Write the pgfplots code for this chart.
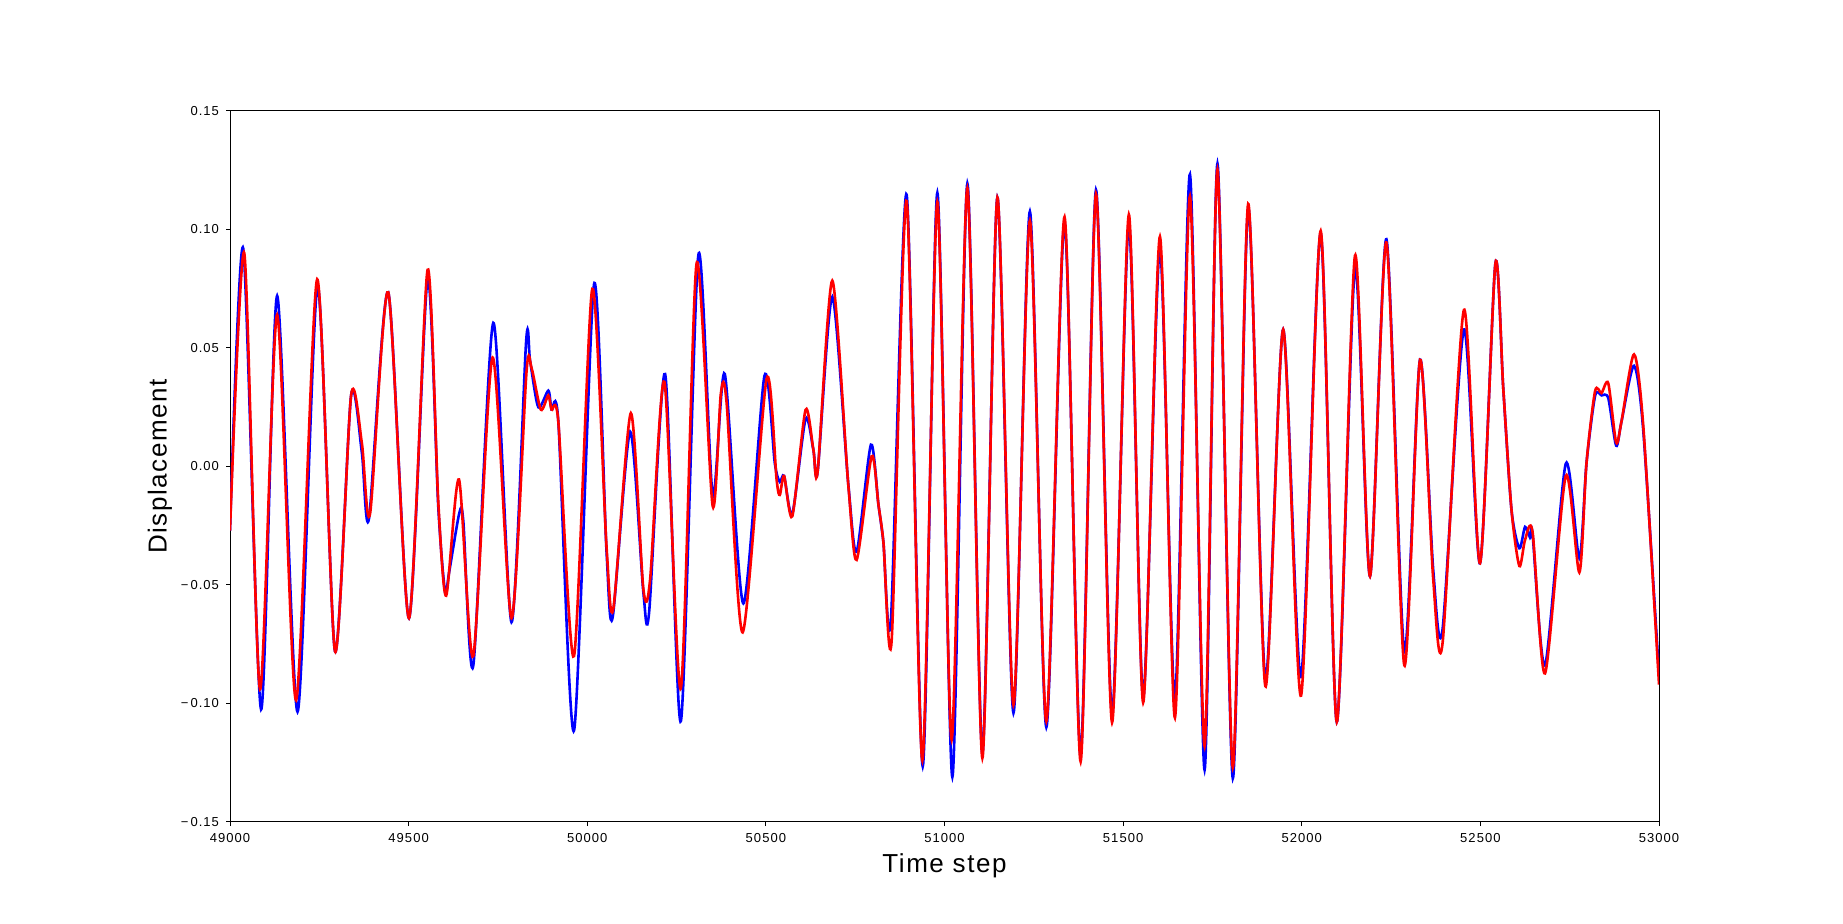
\documentclass[border=0pt]{standalone}
\usepackage{pgfplots}
\pgfplotsset{compat=1.18}
\usepackage{fontspec}
\setmainfont{Liberation Sans}
\newfontfamily\tickfont[LetterSpace=8]{Liberation Sans}
\newfontfamily\labelfont[LetterSpace=6]{Liberation Sans}

\begin{document}
\begin{tikzpicture}
\begin{axis}[
  scale only axis,
  width=714.5pt, height=355.5pt,
  xmin=49000, xmax=53000,
  ymin=-0.15, ymax=0.15,
  scaled x ticks=false,
  scaled y ticks=false,
  xtick={49000,49500,50000,50500,51000,51500,52000,52500,53000},
  xticklabels={49000,49500,50000,50500,51000,51500,52000,52500,53000},
  ytick={-0.15,-0.1,-0.05,0,0.05,0.1,0.15},
  yticklabels={−\,0.15,−\,0.10,−\,0.05,0.00,0.05,0.10,0.15},
  tick pos=left,
  tick align=outside,
  major tick length=2pt,
  tick style={black, line width=0.5pt},
  axis line style={black, line width=0.5pt},
  tick label style={font=\tickfont\fontsize{6.5}{7}\selectfont},
  xlabel={Time step},
  ylabel={Displacement},
  xlabel style={font=\labelfont\fontsize{13}{14}\selectfont, at={(axis description cs:0.5,-0.062)}, anchor=center},
  ylabel style={font=\labelfont\fontsize{13}{14}\selectfont, at={(axis description cs:-0.049,0.5)}, anchor=center},
  every axis plot/.append style={line width=1.3pt, smooth, tension=0.45},
]
\addplot[blue, no marks] coordinates {
(49000,-0.027) (49037,0.092) (49087,-0.1025) (49132,0.072) (49189,-0.1035)
(49245,0.076) (49294,-0.078) (49339,0.030) (49369,0.006) (49389,-0.022)
(49443,0.0735) (49501,-0.064) (49553,0.079) (49583,-0.017) (49602,-0.053)
(49613,-0.045) (49642,-0.0196) (49653,-0.023) (49681,-0.084)
(49737,0.0606) (49788,-0.0657) (49829,0.053) (49840,0.0445) (49863,0.025)
(49891,0.032) (49900,0.024) (49919,0.019) (49963,-0.1114) (50019,0.0769)
(50054,-0.036) (50071,-0.0637) (50120,0.0147) (50157,-0.053) (50173,-0.0618)
(50218,0.039) (50262,-0.1075) (50311,0.0892) (50351,-0.012)
(50385,0.039) (50437,-0.0578) (50496,0.0382) (50525,0.0014)
(50539,-0.0065) (50551,-0.004) (50574,-0.020) (50611,0.020) (50633,0.007)
(50645,-0.002) (50686,0.0716) (50731,-0.008) (50754,-0.036) (50794,0.0092)
(50815,-0.016) (50829,-0.032) (50850,-0.065) (50894,0.1147) (50939,-0.1265)
(50980,0.1155) (51022,-0.131) (51064,0.1194)
(51106,-0.121) (51148,0.1135) (51193,-0.104) (51239,0.1076) (51285,-0.110)
(51336,0.103) (51381,-0.122) (51424,0.1167) (51469,-0.1045) (51516,0.1024)
(51556,-0.0976) (51603,0.092) (51645,-0.0986) (51687,0.1233) (51728,-0.128)
(51764,0.1278) (51807,-0.1316) (51850,0.109) (51898,-0.0898) (51948,0.0578)
(51998,-0.0888) (52053,0.0984) (52098,-0.1078) (52149,0.0837)
(52191,-0.0463) (52237,0.0959) (52287,-0.078) (52331,0.0451) (52368,-0.0437)
(52394,-0.0688)
(52454,0.0578) (52499,-0.0408) (52542,0.0857) (52564,0.033) (52587,-0.0182)
(52609,-0.0345) (52625,-0.0255) (52639,-0.030) (52646,-0.0285) (52681,-0.0839)
(52739,0.0012) (52777,-0.0388) (52797,0.0014) (52821,0.0298)
(52839,0.030) (52858,0.0288) (52880,0.0088) (52895,0.019) (52930,0.0425)
(52956,0.015) (53000,-0.088)
};
\addplot[red, no marks] coordinates {
(49000,-0.027) (49040,0.090) (49084,-0.094) (49132,0.064) (49185,-0.0986)
(49244,0.079) (49294,-0.078) (49339,0.030) (49369,0.010) (49392,-0.020)
(49443,0.0735) (49501,-0.064) (49553,0.083) (49583,-0.015) (49605,-0.0545)
(49641,-0.0055) (49681,-0.080)
(49735,0.046) (49788,-0.064) (49830,0.040) (49844,0.0416) (49870,0.024)
(49891,0.030) (49900,0.024) (49919,0.019) (49963,-0.080) (50014,0.0749)
(50054,-0.034) (50073,-0.060) (50122,0.0225) (50157,-0.0516) (50176,-0.0476)
(50216,0.0357) (50262,-0.0937) (50306,0.0857) (50351,-0.0167)
(50374,0.0308) (50390,0.027) (50435,-0.070) (50502,0.037) (50530,-0.0055)
(50539,-0.012) (50551,-0.004) (50574,-0.021) (50611,0.0239) (50633,0.007)
(50645,-0.002) (50686,0.0784) (50731,-0.0084) (50754,-0.0394) (50796,0.0043)
(50815,-0.016) (50829,-0.032) (50852,-0.0735) (50894,0.112) (50938,-0.124)
(50980,0.1116) (51020,-0.1153) (51064,0.1175)
(51106,-0.123) (51148,0.1135) (51193,-0.1006) (51239,0.1037) (51285,-0.1075)
(51336,0.1053) (51381,-0.1245) (51424,0.115) (51469,-0.108) (51516,0.1063)
(51556,-0.0996) (51603,0.097) (51645,-0.106) (51687,0.114) (51728,-0.118)
(51764,0.1253) (51807,-0.127) (51850,0.1108) (51898,-0.0927) (51948,0.0578)
(51998,-0.0967) (52053,0.0994) (52098,-0.1078) (52149,0.089)
(52191,-0.0463) (52237,0.0945) (52287,-0.0839) (52331,0.045) (52368,-0.0476)
(52394,-0.0747)
(52454,0.0661) (52499,-0.0408) (52542,0.0857) (52564,0.033) (52587,-0.0182)
(52609,-0.042) (52625,-0.031) (52646,-0.0276) (52681,-0.0873) (52739,-0.004)
(52777,-0.0447) (52797,0.0014) (52821,0.0318) (52839,0.031)
(52858,0.0351) (52880,0.0102) (52895,0.019) (52930,0.0473) (52956,0.017)
(53000,-0.092)
};
\coordinate (sw) at (rel axis cs:0,0);
\coordinate (ne) at (rel axis cs:1,1);
\end{axis}
\path[use as bounding box] ([shift={(-115pt,-51pt)}]sw) rectangle ([shift={(92pt,55.5pt)}]ne);
\end{tikzpicture}
\end{document}
